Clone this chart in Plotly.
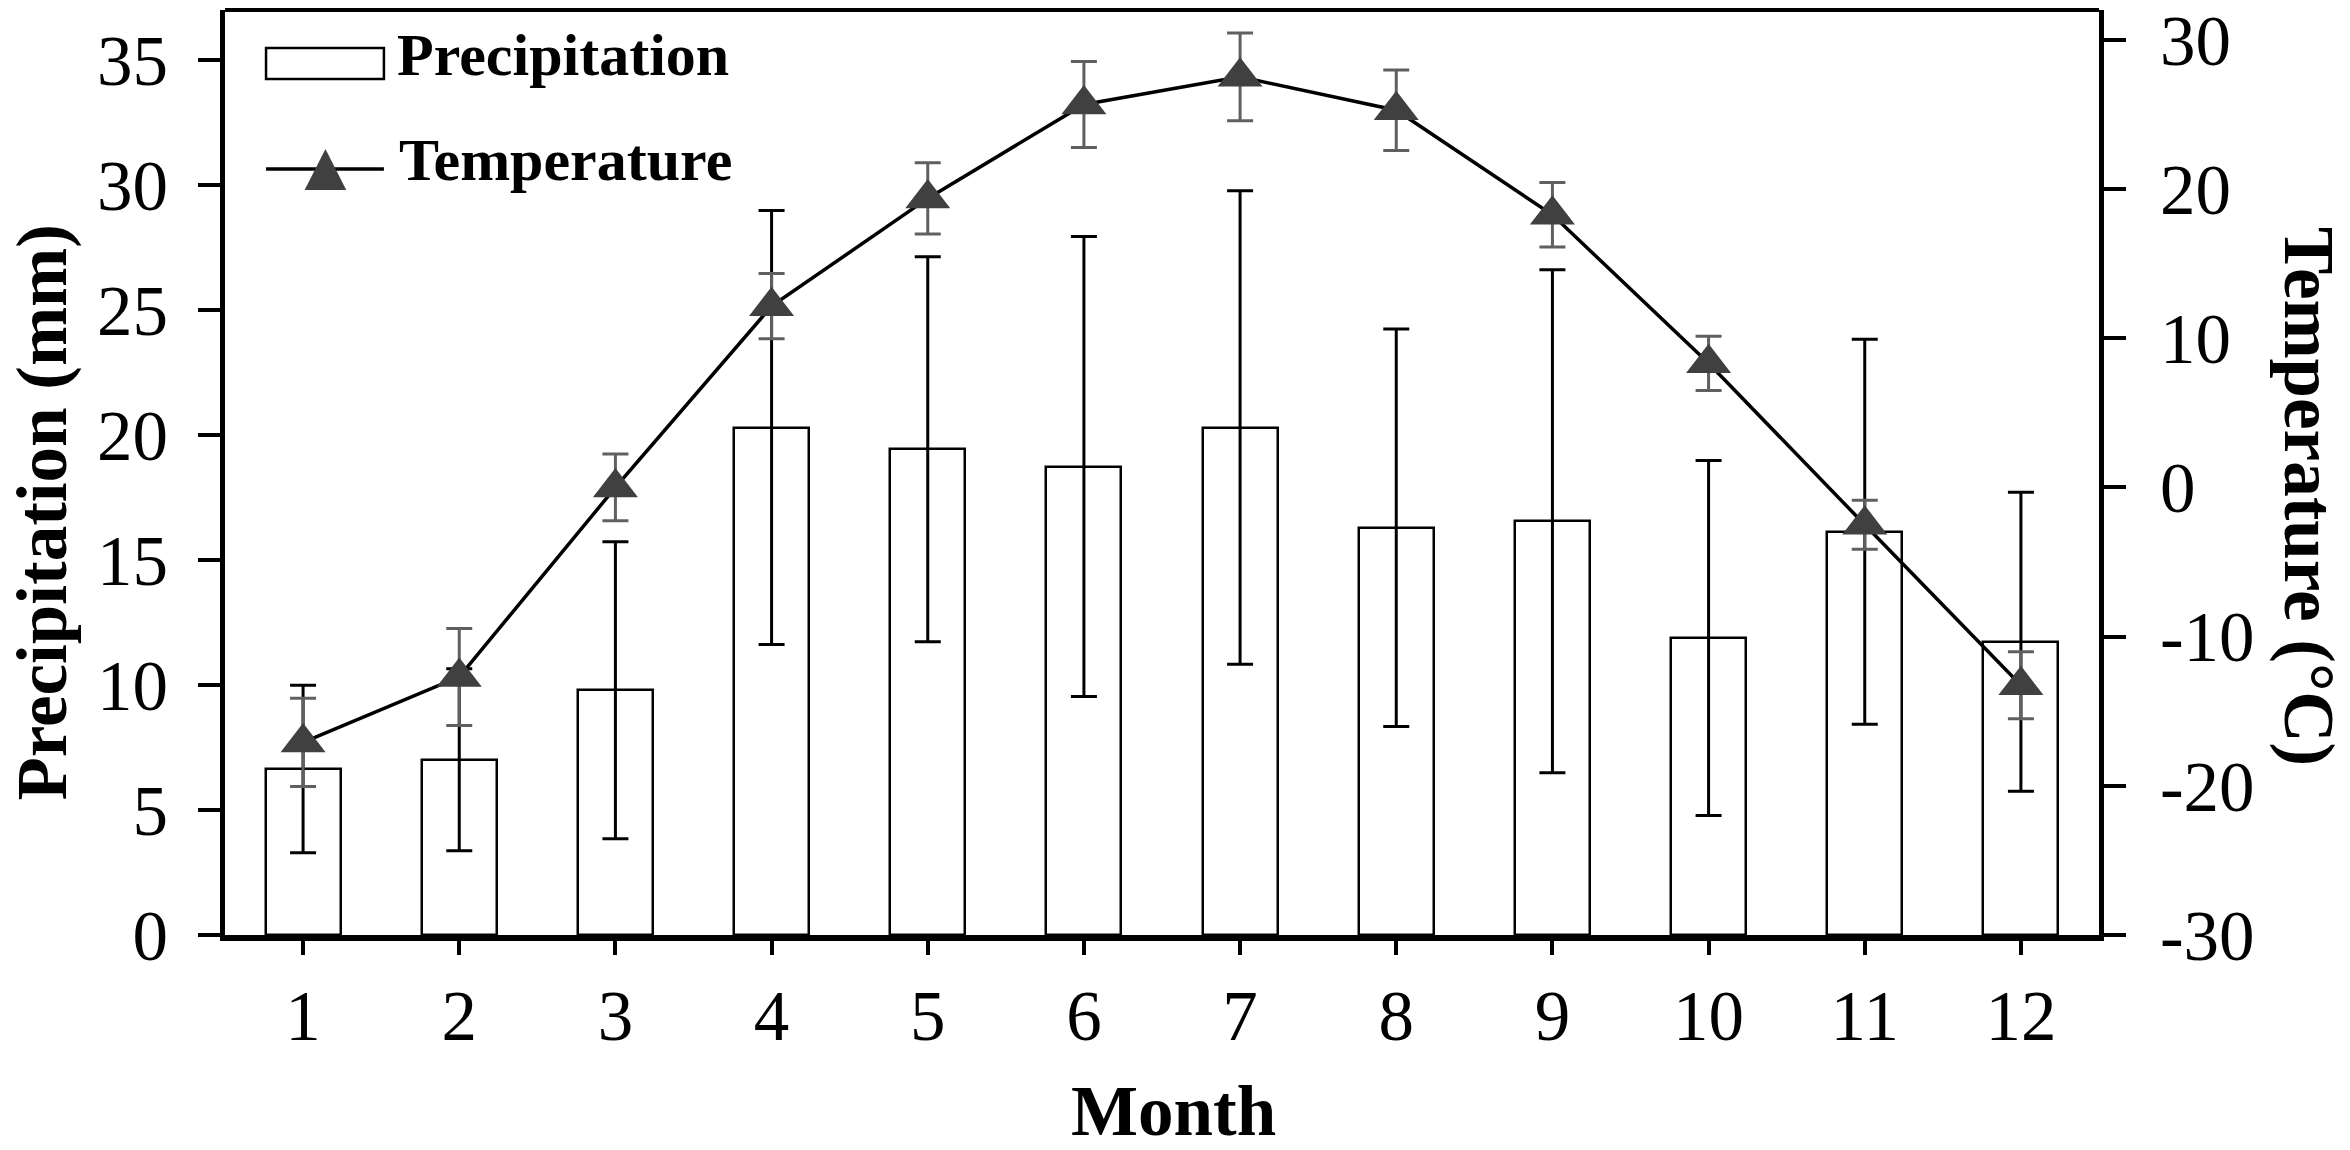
import plotly.graph_objects as go

# monthly means and standard deviations
months = [1, 2, 3, 4, 5, 6, 7, 8, 9, 10, 11, 12]
precip = [6.64, 7.01, 9.79, 20.3, 19.43, 18.74, 20.3, 16.29, 16.55, 11.88, 16.13, 11.73]
precip_sd = [3.35, 3.64, 5.94, 8.68, 7.7, 9.2, 9.47, 7.95, 10.06, 7.1, 7.7, 5.98]
temp = [-17.09, -12.7, 0.0, 12.15, 19.37, 25.67, 27.52, 25.28, 18.27, 8.32, -2.5, -13.26]
temp_sd = [2.96, 3.25, 2.24, 2.19, 2.39, 2.88, 2.94, 2.7, 2.16, 1.82, 1.64, 2.25]

precip_ticks = [0, 5, 10, 15, 20, 25, 30, 35]
temp_ticks = [-30, -20, -10, 0, 10, 20, 30]

serif = "Liberation Serif"

fig = go.Figure()
fig.add_trace(go.Bar(
    x=months, y=precip, width=0.48, name="Precipitation", showlegend=False,
    marker=dict(color="white", line=dict(color="black", width=2.5)),
    error_y=dict(type="data", array=precip_sd, color="black", thickness=3, width=13),
))
fig.add_trace(go.Scatter(
    x=months, y=temp, yaxis="y2", mode="lines+markers", name="Temperature", showlegend=False,
    line=dict(color="black", width=3.5),
    marker=dict(symbol="triangle-up", size=39, color="#404040", line=dict(width=0)),
    error_y=dict(type="data", array=temp_sd, color="#606060", thickness=3, width=13),
))

axis_style = dict(showgrid=False, zeroline=False, ticks="outside", tickwidth=4,
                  linecolor="black", tickcolor="black", showline=True, automargin=False,
                  tickfont=dict(family=serif, size=71, color="black"))

fig.update_layout(
    width=2350, height=1150,
    margin=dict(l=225, r=251, t=10, b=215),
    plot_bgcolor="white", paper_bgcolor="white",
    bargap=0,
    xaxis=dict(range=[0.5, 12.5], tickvals=months, ticklen=14, linewidth=6, **axis_style),
    yaxis=dict(range=[0, 37], tickvals=precip_ticks, ticklen=22, linewidth=4.5,
               ticklabelstandoff=16, **axis_style),
    yaxis2=dict(range=[-30, 32], tickvals=temp_ticks, ticktext=[str(t) for t in temp_ticks],
                overlaying="y", side="right", ticklen=22, linewidth=4.5,
                ticklabelstandoff=20, **axis_style),
)

# top border of the frame
fig.add_shape(type="line", xref="paper", yref="paper", x0=0, x1=1, y0=1, y1=1,
              line=dict(color="black", width=4))

# legend drawn by hand so the symbols keep their size
fig.add_shape(type="rect", xref="paper", yref="paper", x0=0.0219, x1=0.0848, y0=0.9254, y1=0.9589,
              line=dict(color="black", width=2.5), fillcolor="white")
fig.add_shape(type="line", xref="paper", yref="paper", x0=0.0219, x1=0.0848, y0=0.8281, y1=0.8281,
              line=dict(color="black", width=3.5))
fig.add_shape(type="path", xref="paper", yref="paper",
              path="M 0.0425,0.8054 L 0.0647,0.8054 L 0.0536,0.8497 Z",
              fillcolor="#404040", line=dict(width=0))

bold = dict(family=serif, size=60, color="black")
fig.add_annotation(text="<b>Precipitation</b>", xref="paper", yref="paper", x=0.0905, y=0.951,
                   xanchor="left", yanchor="middle", showarrow=False, font=bold)
fig.add_annotation(text="<b>Temperature</b>", xref="paper", yref="paper", x=0.092, y=0.838,
                   xanchor="left", yanchor="middle", showarrow=False, font=bold)

title_font = dict(family=serif, size=71, color="black")
fig.add_annotation(text="<b>Precipitation (mm)</b>", xref="paper", yref="paper", x=-0.0975, y=0.457,
                   xanchor="center", yanchor="middle", textangle=-90, showarrow=False, font=title_font)
fig.add_annotation(text="<b>Temperature (°C)</b>", xref="paper", yref="paper", x=1.112, y=0.4735,
                   xanchor="center", yanchor="middle", textangle=90, showarrow=False, font=title_font)
fig.add_annotation(text="<b>Month</b>", xref="paper", yref="paper", x=0.506, y=-0.19,
                   xanchor="center", yanchor="middle", showarrow=False, font=title_font)

fig.write_html("out.html", config={"displayModeBar": False},
               post_script="document.body.style.margin='0';")
